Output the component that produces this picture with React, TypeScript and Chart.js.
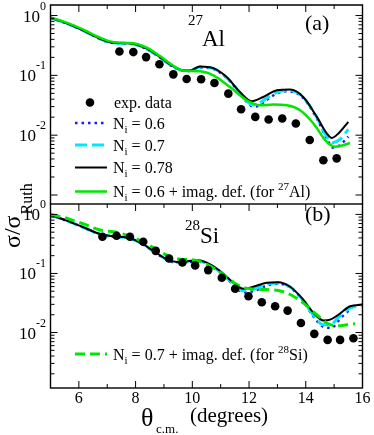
import React, { useEffect, useRef } from 'react';
import { Chart, registerables } from 'chart.js';

Chart.register(...registerables);

// ---------- DATA ----------
// x-axis ticks (theta c.m., degrees)
const xMajorTicks = [6, 8, 10, 12, 14, 16];
const xMinorTicks = [5, 7, 9, 11, 13, 15];
const yDecades = [0, -1, -2];

// Panel (a): 27Al
const expAlTheta = [7.43, 7.92, 8.37, 8.84, 9.33, 9.8, 10.31, 10.78, 11.27, 11.72, 12.22, 12.69, 13.17, 13.65, 14.14, 14.62, 15.09];
const expAlVal = [0.251, 0.245, 0.202, 0.153, 0.104, 0.087, 0.086, 0.0745, 0.0495, 0.0271, 0.0202, 0.0183, 0.019, 0.0157, 0.0083, 0.0038, 0.0041];

const alN078Theta = [5.0, 5.57, 6.16, 6.75, 7.1, 7.57, 7.92, 8.39, 8.86, 9.33, 9.68, 9.92, 10.27, 10.74, 11.21, 11.68, 12.09, 12.5, 12.98, 13.45, 13.91, 14.39, 14.74, 14.92, 15.15, 15.5];
const alN078Val = [0.915, 0.744, 0.562, 0.409, 0.359, 0.345, 0.337, 0.279, 0.202, 0.141, 0.121, 0.121, 0.141, 0.132, 0.094, 0.0527, 0.0369, 0.0435, 0.0562, 0.0578, 0.0435, 0.0202, 0.0107, 0.009, 0.0107, 0.0167];

const alN06Theta = [5.0, 5.57, 6.16, 6.75, 7.1, 7.57, 7.92, 8.39, 8.86, 9.33, 9.68, 9.92, 10.27, 10.74, 11.21, 11.68, 11.92, 12.15, 12.35, 12.6, 12.98, 13.3, 13.6, 13.91, 14.39, 14.74, 14.95, 15.2, 15.5];
const alN06Val = [0.91, 0.74, 0.56, 0.405, 0.355, 0.342, 0.333, 0.275, 0.199, 0.138, 0.119, 0.118, 0.135, 0.128, 0.09, 0.05, 0.036, 0.03, 0.031, 0.038, 0.05, 0.054, 0.052, 0.042, 0.019, 0.0088, 0.0062, 0.0068, 0.0095];

const alN07Theta = [5.0, 5.57, 6.16, 6.75, 7.1, 7.57, 7.92, 8.39, 8.86, 9.33, 9.68, 9.92, 10.27, 10.74, 11.21, 11.68, 11.92, 12.12, 12.35, 12.6, 12.98, 13.3, 13.6, 13.91, 14.39, 14.74, 14.95, 15.2, 15.5];
const alN07Val = [0.912, 0.742, 0.561, 0.407, 0.357, 0.343, 0.335, 0.277, 0.2, 0.139, 0.12, 0.119, 0.138, 0.13, 0.092, 0.051, 0.037, 0.032, 0.034, 0.041, 0.052, 0.056, 0.054, 0.043, 0.02, 0.0095, 0.0075, 0.0085, 0.0125];

const alImagTheta = [5.0, 5.57, 6.16, 6.75, 7.1, 7.57, 7.92, 8.39, 8.86, 9.33, 9.57, 9.92, 10.27, 10.74, 11.33, 11.92, 12.39, 12.86, 13.33, 13.8, 14.27, 14.74, 15.03, 15.32, 15.56];
const alImagVal = [0.93, 0.76, 0.58, 0.425, 0.37, 0.35, 0.345, 0.29, 0.21, 0.145, 0.123, 0.118, 0.117, 0.1, 0.0638, 0.0383, 0.0316, 0.0325, 0.0316, 0.0261, 0.0157, 0.0077, 0.0064, 0.0068, 0.0074];

// Panel (b): 28Si
const expSiTheta = [6.83, 7.33, 7.8, 8.27, 8.71, 9.18, 9.65, 10.1, 10.56, 11.04, 11.51, 11.98, 12.45, 12.92, 13.36, 13.83, 14.3, 14.77, 15.21, 15.68];
const expSiVal = [0.418, 0.435, 0.418, 0.344, 0.241, 0.179, 0.153, 0.137, 0.114, 0.0848, 0.055, 0.0411, 0.0325, 0.0278, 0.0235, 0.0145, 0.0095, 0.0075, 0.0075, 0.008];

const siN078Theta = [5.0, 5.57, 6.16, 6.75, 7.21, 7.69, 8.16, 8.63, 9.1, 9.45, 9.8, 10.15, 10.51, 10.98, 11.45, 11.8, 12.15, 12.62, 13.03, 13.45, 13.91, 14.33, 14.62, 14.86, 15.15, 15.56, 16.0];
const siN078Val = [0.98, 0.784, 0.605, 0.465, 0.425, 0.408, 0.336, 0.241, 0.174, 0.157, 0.16, 0.168, 0.153, 0.11, 0.0697, 0.055, 0.0596, 0.0697, 0.0713, 0.0596, 0.0361, 0.02, 0.016, 0.0165, 0.02, 0.0278, 0.0297];

const siN06Theta = [5.0, 5.57, 6.16, 6.75, 7.21, 7.69, 8.16, 8.63, 9.1, 9.45, 9.8, 10.15, 10.51, 10.98, 11.45, 11.8, 12.15, 12.62, 13.03, 13.45, 13.91, 14.33, 14.62, 14.9, 15.25, 15.62];
const siN06Val = [0.97, 0.78, 0.6, 0.46, 0.42, 0.4, 0.33, 0.236, 0.17, 0.152, 0.154, 0.162, 0.148, 0.105, 0.064, 0.048, 0.05, 0.062, 0.067, 0.058, 0.034, 0.017, 0.0125, 0.012, 0.018, 0.026];

const siN07Theta = [5.0, 5.57, 6.16, 6.75, 7.21, 7.69, 8.16, 8.63, 9.1, 9.45, 9.8, 10.15, 10.51, 10.98, 11.45, 11.8, 12.15, 12.62, 13.03, 13.45, 13.91, 14.33, 14.62, 14.86, 15.15, 15.56, 16.0];
const siN07Val = [0.975, 0.782, 0.602, 0.462, 0.422, 0.404, 0.333, 0.238, 0.172, 0.154, 0.157, 0.165, 0.15, 0.107, 0.066, 0.051, 0.054, 0.066, 0.069, 0.059, 0.035, 0.018, 0.0135, 0.0135, 0.018, 0.026, 0.029];

const siImagTheta = [5.0, 5.57, 6.16, 6.75, 7.33, 7.92, 8.51, 9.1, 9.57, 10.04, 10.51, 11.09, 11.56, 12.03, 12.5, 12.98, 13.45, 13.91, 14.39, 14.74, 15.09, 15.44, 15.74];
const siImagVal = [1.0, 0.861, 0.689, 0.544, 0.497, 0.408, 0.294, 0.204, 0.174, 0.169, 0.143, 0.0966, 0.0652, 0.055, 0.0535, 0.0521, 0.044, 0.0318, 0.02, 0.0145, 0.013, 0.0135, 0.0141];

// ---------- STYLE ----------
const SERIF = '"Liberation Serif", "Times New Roman", serif';
const BLUE = '#1a1aff';
const CYAN = '#00e8ff';
const GREEN = '#00e600';
const BLACK = '#000000';
const BLUE_DASH = [2.5, 4];
const CYAN_DASH = [12, 5];
const GREEN_DASH = [10, 5];

const zip = (xs: number[], ys: number[]) => xs.map((x, i) => ({ x, y: ys[i] }));

const lineDs = (label: string, xs: number[], ys: number[], axis: string, color: string, width: number, dash: number[]) => ({
  type: 'line' as const,
  label,
  data: zip(xs, ys),
  yAxisID: axis,
  borderColor: color,
  backgroundColor: color,
  borderWidth: width,
  borderDash: dash,
  pointRadius: 0,
  fill: false,
  cubicInterpolationMode: 'monotone' as const,
  borderCapStyle: 'butt' as const,
});

const pointDs = (label: string, xs: number[], ys: number[], axis: string) => ({
  type: 'line' as const,
  label,
  data: zip(xs, ys),
  yAxisID: axis,
  showLine: false,
  pointRadius: 4.3,
  pointBackgroundColor: BLACK,
  pointBorderColor: BLACK,
  pointBorderWidth: 0,
});

type Part = { t: string; size: number; dy?: number };
function rich(ctx: CanvasRenderingContext2D, x: number, y: number, parts: Part[]) {
  let cx = x;
  for (const p of parts) {
    ctx.font = `${p.size}px ${SERIF}`;
    ctx.fillText(p.t, cx, y + (p.dy || 0));
    cx += ctx.measureText(p.t).width;
  }
  return cx;
}

const decorPlugin = {
  id: 'decor',
  afterDatasetsDraw(chart: any) {
    const ctx: CanvasRenderingContext2D = chart.ctx;
    const xs = chart.scales.x;
    const yA = chart.scales.yA;
    const yB = chart.scales.yB;
    ctx.save();
    ctx.strokeStyle = BLACK;
    ctx.fillStyle = BLACK;
    ctx.setLineDash([]);
    const seg = (x1: number, y1: number, x2: number, y2: number) => {
      ctx.beginPath();
      ctx.moveTo(x1, y1);
      ctx.lineTo(x2, y2);
      ctx.stroke();
    };
    ctx.textBaseline = 'alphabetic';
    const L = xs.left, R = xs.right;

    // frames: top panel open at the bottom, side axes run down to panel (b)
    ctx.lineWidth = 1.4;
    ctx.beginPath();
    ctx.moveTo(L, yB.top);
    ctx.lineTo(L, yA.top);
    ctx.lineTo(R, yA.top);
    ctx.lineTo(R, yB.top);
    ctx.stroke();
    ctx.strokeRect(L, yB.top, R - L, yB.bottom - yB.top);

    ctx.lineWidth = 1;
    // x ticks: top of (a), top and bottom of (b)
    const xTickRows: [number, number][] = [[yA.top, 1], [yB.top, 1], [yB.bottom, -1]];
    for (const [yy, dir] of xTickRows) {
      for (const v of xMajorTicks) {
        const px = xs.getPixelForValue(v);
        seg(px, yy, px, yy + dir * 7);
      }
      for (const v of xMinorTicks) {
        const px = xs.getPixelForValue(v);
        seg(px, yy, px, yy + dir * 4);
      }
    }
    for (const ys of [yA, yB]) {
      for (let e = -4; e <= 1; e++) {
        for (let k = 1; k <= 9; k++) {
          const v = k * Math.pow(10, e);
          if (v < ys.min || v > ys.max) continue;
          const py = ys.getPixelForValue(v);
          const len = k === 1 ? 7 : 4;
          seg(L, py, L + len, py);
          seg(R, py, R - len, py);
        }
      }
      // y tick labels 10^n
      for (const e of yDecades) {
        const py = ys.getPixelForValue(Math.pow(10, e));
        ctx.font = `12px ${SERIF}`;
        const sup = String(e);
        const ws = ctx.measureText(sup).width;
        ctx.font = `17px ${SERIF}`;
        const wm = ctx.measureText('10').width;
        const x0 = 46 - ws - wm;
        ctx.fillText('10', x0, py + 6);
        ctx.font = `12px ${SERIF}`;
        ctx.fillText(sup, x0 + wm, py - 6);
      }
    }
    // x tick labels (bottom panel)
    ctx.textAlign = 'center';
    ctx.font = `16px ${SERIF}`;
    for (const v of xMajorTicks) {
      ctx.fillText(String(v), xs.getPixelForValue(v), yB.bottom + 15);
    }
    ctx.textAlign = 'left';
    // x title
    rich(ctx, 141, 426, [{ t: 'θ', size: 26 }]);
    rich(ctx, 156, 433, [{ t: 'c.m.', size: 13 }]);
    rich(ctx, 190, 422, [{ t: '(degrees)', size: 21 }]);

    // y title (rotated)
    ctx.save();
    ctx.translate(20, 248);
    ctx.rotate(-Math.PI / 2);
    ctx.font = `24px ${SERIF}`;
    ctx.fillText('σ/σ', 0, 0);
    const w = ctx.measureText('σ/σ').width;
    ctx.font = `16px ${SERIF}`;
    ctx.fillText('Ruth', w + 1, 12);
    ctx.restore();

    // panel labels
    rich(ctx, 305, 30, [{ t: '(a)', size: 22 }]);
    rich(ctx, 305, 221, [{ t: '(b)', size: 22 }]);
    rich(ctx, 188, 25, [{ t: '27', size: 15 }]);
    rich(ctx, 202, 46, [{ t: 'Al', size: 23 }]);
    rich(ctx, 185, 230, [{ t: '28', size: 15 }]);
    rich(ctx, 200, 243, [{ t: 'Si', size: 23 }]);

    // legend (a)
    const lx0 = 75, lx1 = 107, tx = 113;
    ctx.beginPath();
    ctx.arc(90, 102.5, 4.3, 0, Math.PI * 2);
    ctx.fill();
    rich(ctx, tx + 1, 107.5, [{ t: 'exp. data', size: 16 }]);
    const legendLine = (y: number, color: string, width: number, dash: number[]) => {
      ctx.save();
      ctx.strokeStyle = color;
      ctx.lineWidth = width;
      ctx.setLineDash(dash);
      seg(lx0, y, lx1, y);
      ctx.restore();
    };
    const nLabel = (y: number, rest: Part[]) => {
      ctx.fillStyle = BLACK;
      rich(ctx, tx, y + 5.5, [{ t: 'N', size: 16 }, { t: 'i', size: 11, dy: 4 }, ...rest]);
    };
    legendLine(123, BLUE, 2.5, BLUE_DASH);
    nLabel(123, [{ t: ' = 0.6', size: 16 }]);
    legendLine(145, CYAN, 3, CYAN_DASH);
    nLabel(145, [{ t: ' = 0.7', size: 16 }]);
    legendLine(167.5, BLACK, 2, []);
    nLabel(167.5, [{ t: ' = 0.78', size: 16 }]);
    legendLine(191.5, GREEN, 2.5, []);
    nLabel(191.5, [{ t: ' = 0.6 + imag. def. (for ', size: 16 }, { t: '27', size: 11, dy: -7 }, { t: 'Al)', size: 16 }]);
    // legend (b)
    legendLine(354, GREEN, 3, GREEN_DASH);
    nLabel(354, [{ t: ' = 0.7 + imag. def. (for ', size: 16 }, { t: '28', size: 11, dy: -7 }, { t: 'Si)', size: 16 }]);
    ctx.restore();
  },
};

export default function App() {
  const ref = useRef<HTMLCanvasElement>(null);
  useEffect(() => {
    if (!ref.current) return;
    const chart = new Chart(ref.current, {
      type: 'line',
      data: {
        datasets: [
          pointDs('exp. data (27Al)', expAlTheta, expAlVal, 'yA'),
          lineDs('Ni = 0.6 + imag. def. (27Al)', alImagTheta, alImagVal, 'yA', GREEN, 2.5, []),
          lineDs('Ni = 0.78 (27Al)', alN078Theta, alN078Val, 'yA', BLACK, 2, []),
          lineDs('Ni = 0.7 (27Al)', alN07Theta, alN07Val, 'yA', CYAN, 3, CYAN_DASH),
          lineDs('Ni = 0.6 (27Al)', alN06Theta, alN06Val, 'yA', BLUE, 2.5, BLUE_DASH),
          pointDs('exp. data (28Si)', expSiTheta, expSiVal, 'yB'),
          lineDs('Ni = 0.7 + imag. def. (28Si)', siImagTheta, siImagVal, 'yB', GREEN, 3, GREEN_DASH),
          lineDs('Ni = 0.78 (28Si)', siN078Theta, siN078Val, 'yB', BLACK, 2, []),
          lineDs('Ni = 0.7 (28Si)', siN07Theta, siN07Val, 'yB', CYAN, 3, CYAN_DASH),
          lineDs('Ni = 0.6 (28Si)', siN06Theta, siN06Val, 'yB', BLUE, 2.5, BLUE_DASH),
        ] as any,
      },
      options: {
        responsive: false,
        devicePixelRatio: 1,
        animation: false,
        events: [],
        layout: { padding: { left: 50.5, right: 11.5, top: 5, bottom: 47 } },
        plugins: { legend: { display: false }, tooltip: { enabled: false } },
        scales: {
          x: { type: 'linear', min: 5, max: 16, display: false },
          yA: { type: 'logarithmic', position: 'left', stack: 'panels', stackWeight: 190, weight: 2, min: 0.001, max: 1.5, display: false },
          yGap: { type: 'linear', position: 'left', stack: 'panels', stackWeight: 9, weight: 1, min: 0, max: 1, display: false },
          yB: { type: 'logarithmic', position: 'left', stack: 'panels', stackWeight: 184, weight: 0, min: 0.00115, max: 1.5, display: false },
        } as any,
      },
      plugins: [decorPlugin],
    });
    return () => chart.destroy();
  }, []);
  return (
    <div style={{ position: 'absolute', left: 0, top: 0, width: 374, height: 435, background: '#ffffff' }}>
      <canvas ref={ref} width={374} height={435} style={{ display: 'block', width: 374, height: 435 }} />
    </div>
  );
}
